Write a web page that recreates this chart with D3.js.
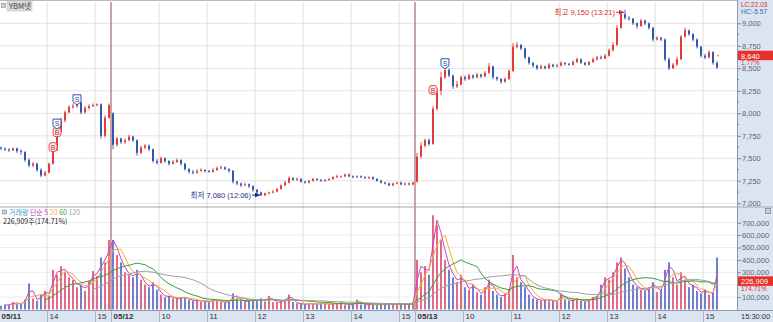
<!DOCTYPE html>
<html>
<head>
<meta charset="utf-8">
<script src="https://cdn.jsdelivr.net/npm/d3@7"></script>
<style>
  body { margin: 0; background: #fff; }
  svg { display: block; font-family: "Liberation Sans", "Noto Sans CJK KR", sans-serif; }
</style>
</head>
<body>
<svg id="chart" width="773" height="322"></svg>
<script>
// ---- data (5-minute bars) ----
const days = ['05/11', '05/12', '05/13'];
const dayStartMin = [13 * 60, 9 * 60, 9 * 60];
const dayOpen = [7620, 8000, 7240];

const close0511 = [7610,7600,7590,7610,7580,7570,7480,7420,7440,7370, 7310,7340,7440,7590,7790,7920,8010,8070,8080,8120, 8010,8060,8080,8090,8100,7750,7950,8090];
const high0511  = [7630,7620,7610,7620,7620,7600,7580,7500,7460,7450, 7390,7360,7450,7600,7800,7950,8030,8090,8110,8140, 8130,8080,8100,8110,8110,8110,7980,8110];
const low0511   = [7590,7580,7570,7580,7560,7540,7460,7400,7400,7350, 7290,7300,7330,7430,7580,7780,7900,8000,8050,8060, 7990,8000,8040,8070,8080,7720,7730,7940];
const vol0511   = [30000,40000,35000,60000,45000,50000,80000,210000,90000,70000, 120000,150000,110000,320000,280000,350000,300000,260000,240000,180000, 200000,150000,230000,310000,270000,420000,380000,560000];

const close0512 = [7650,7720,7680,7700,7740,7700,7560,7620,7640,7600, 7470,7450,7500,7470,7440,7460,7480,7440,7380,7350, 7340,7360,7370,7360,7350,7370,7390,7400,7380,7360, 7240,7220,7200,7210,7190,7150,7120,7090,7110,7120, 7130,7160,7200,7230,7280,7260,7270,7240,7230,7250, 7270,7260,7250,7260,7270,7290,7300,7300,7320,7300, 7290,7300,7290,7280,7290,7270,7250,7230,7220,7200, 7220,7230,7210,7220,7210,7230];
const high0512  = [8010,7740,7730,7720,7760,7750,7710,7640,7660,7650, 7610,7490,7520,7510,7480,7480,7500,7490,7450,7390, 7370,7380,7390,7380,7370,7390,7410,7420,7410,7390, 7370,7250,7230,7230,7220,7200,7160,7130,7120,7130, 7150,7170,7210,7250,7300,7290,7290,7280,7250,7260, 7280,7280,7270,7270,7280,7300,7320,7310,7330,7330, 7310,7310,7310,7300,7300,7300,7280,7260,7240,7230, 7230,7240,7240,7230,7230,7240];
const low0512   = [7600,7630,7660,7660,7690,7680,7530,7550,7600,7580, 7450,7430,7440,7450,7420,7430,7450,7420,7360,7330, 7320,7330,7350,7340,7340,7340,7360,7380,7370,7340, 7220,7200,7180,7190,7170,7130,7100,7080,7080,7100, 7110,7120,7150,7190,7220,7250,7250,7230,7220,7220, 7240,7250,7240,7240,7250,7260,7280,7290,7290,7290, 7280,7280,7280,7270,7270,7260,7240,7220,7210,7190, 7190,7210,7200,7200,7200,7200];
const vol0512   = [560000,440000,380000,300000,280000,260000,320000,240000,200000,180000, 220000,160000,120000,100000,110000,90000,85000,100000,95000,80000, 70000,75000,65000,70000,60000,80000,75000,60000,55000,65000, 130000,90000,70000,60000,75000,80000,70000,90000,65000,110000, 60000,55000,70000,80000,120000,60000,50000,45000,40000,50000, 45000,40000,55000,45000,40000,50000,45000,60000,40000,35000, 45000,80000,40000,35000,40000,45000,35000,40000,50000,45000, 40000,45000,50000,40000,45000,60000];

const close0513 = [7520,7640,7700,7660,8050,8250,8400,8480,8420,8300, 8320,8400,8380,8420,8400,8430,8410,8450,8520,8400, 8380,8350,8380,8470,8740,8760,8720,8620,8560,8530, 8500,8520,8500,8540,8520,8530,8560,8550,8540,8570, 8600,8560,8540,8570,8600,8620,8610,8640,8700,8760, 8950,9100,9060,9050,9000,8970,9030,9000,8950,8820, 8840,8820,8600,8500,8540,8600,8850,8920,8880,8820, 8740,8640,8620,8680,8560,8510];
const high0513  = [7560,7680,7720,7720,8080,8280,8460,8520,8500,8430, 8360,8420,8420,8440,8430,8450,8440,8470,8560,8530, 8410,8390,8400,8490,8780,8790,8770,8730,8630,8570, 8540,8540,8530,8560,8550,8550,8580,8570,8560,8590, 8620,8610,8570,8580,8620,8640,8640,8660,8720,8790, 8980,9130,9150,9080,9060,9010,9050,9040,9010,8960, 8860,8850,8830,8620,8560,8630,8870,8950,8930,8890, 8830,8750,8660,8700,8690,8580];
const low0513   = [7230,7500,7620,7640,7650,8030,8200,8380,8400,8270, 8280,8310,8360,8370,8380,8390,8390,8400,8440,8380, 8360,8330,8340,8370,8460,8720,8700,8600,8540,8510, 8480,8490,8490,8490,8510,8510,8520,8530,8530,8530, 8560,8550,8530,8530,8560,8590,8600,8600,8630,8690, 8750,8940,9040,9030,8980,8940,8960,8980,8930,8800, 8810,8800,8580,8480,8490,8530,8590,8840,8860,8800, 8720,8620,8600,8610,8540,8490];
const vol0513   = [400000,300000,350000,280000,760000,680000,560000,400000,320000,260000, 220000,280000,180000,160000,200000,140000,120000,180000,240000,150000, 120000,100000,130000,160000,440000,260000,220000,180000,120000,90000, 80000,70000,85000,75000,70000,65000,130000,80000,70000,75000, 90000,70000,65000,80000,100000,110000,200000,260000,240000,300000, 380000,420000,330000,260000,200000,180000,160000,150000,180000,220000, 140000,160000,320000,380000,260000,200000,300000,240000,180000,200000, 150000,130000,160000,120000,140000,420000];

const lastTrade = 8640;
const lastVolume = 226909;
const priceTicks = [7000, 7250, 7500, 7750, 8000, 8250, 8500, 8750, 9000];
const volTicks = [100000, 200000, 300000, 400000, 500000, 600000, 700000];
const maPeriods = [5, 20, 60, 120];
const maColors = ['#d040c8', '#f0b030', '#3aa040', '#a0a0a0'];

// trade signals: [bar index, price, type]
const signals = [[13, 7625, 'B'], [14, 7790, 'B'], [14, 7880, 'S'], [19, 8150, 'S'], [108, 8260, 'B'], [111, 8550, 'S']];

// ---- build bars ----
const dayCloses = [close0511, close0512, close0513];
const dayHighs = [high0511, high0512, high0513];
const dayLows = [low0511, low0512, low0513];
const dayVols = [vol0511, vol0512, vol0513];

let bars = [];
dayCloses.forEach((closes, d) => {
  let prev = dayOpen[d];
  closes.forEach((c, i) => {
    bars.push({ day: d, open: prev, high: dayHighs[d][i], low: dayLows[d][i], close: c, vol: dayVols[d][i] });
    prev = c;
  });
});

const svg = d3.select('#chart');
const plotR = 737;
const paneTop = 2, paneMid = 207, paneBot = 310;

let x = d3.scaleLinear().domain([0, bars.length]).range([-1, 719]);
let yP = d3.scaleLinear().domain([7000, 9000]).range([203.3, 23.3]);
let yV = d3.scaleLinear().domain([0, 700000]).range([309.5, 222.7]);
const cx = (i) => x(i + 0.5);

const UP = '#e03a3a', DOWN = '#3456b0';

// hour ticks
let hourTicks = [];
let offset = 0;
days.forEach((day, d) => {
  let start = dayStartMin[d];
  for (let h = Math.floor(start / 60); h <= 15; h++) {
    let isDay = h * 60 === start;
    hourTicks.push({ bar: offset + (h * 60 - start) / 5, label: isDay ? day : String(h), isDay });
  }
  offset += dayCloses[d].length;
});

// ---- background / grid ----
svg.append('rect').attr('x', 0).attr('y', 0).attr('width', 773).attr('height', 322).attr('fill', '#fff');

let grid = svg.append('g');
priceTicks.forEach((t) => {
  grid.append('line').attr('x1', 0).attr('x2', plotR).attr('y1', yP(t)).attr('y2', yP(t))
    .attr('stroke', '#e3e3e3');
});
volTicks.forEach((t) => {
  grid.append('line').attr('x1', 0).attr('x2', plotR).attr('y1', yV(t)).attr('y2', yV(t))
    .attr('stroke', '#ececec');
});
hourTicks.forEach((t) => {
  if (t.bar === 0) return;
  grid.append('line').attr('x1', x(t.bar)).attr('x2', x(t.bar))
    .attr('y1', paneTop).attr('y2', paneBot)
    .attr('stroke', t.isDay ? '#b07272' : '#dedede')
    .attr('stroke-width', t.isDay ? 1.3 : 1);
});

// ---- clips ----
let defs = svg.append('defs');
defs.append('clipPath').attr('id', 'clipP').append('rect')
  .attr('x', 0).attr('y', paneTop).attr('width', plotR).attr('height', paneMid - paneTop);
defs.append('clipPath').attr('id', 'clipV').append('rect')
  .attr('x', 0).attr('y', paneMid).attr('width', plotR).attr('height', paneBot - paneMid);

// ---- candles ----
let candles = svg.append('g').attr('clip-path', 'url(#clipP)');
bars.forEach((b, i) => {
  let col = b.close >= b.open ? UP : DOWN;
  candles.append('line').attr('x1', cx(i)).attr('x2', cx(i))
    .attr('y1', yP(b.high)).attr('y2', yP(b.low)).attr('stroke', col).attr('stroke-width', 0.9);
  let top = yP(Math.max(b.open, b.close));
  let h = Math.max(1, Math.abs(yP(b.open) - yP(b.close)));
  candles.append('rect').attr('x', cx(i) - 1).attr('width', 2)
    .attr('y', top).attr('height', h).attr('fill', col);
});
// closing auction trade
candles.append('circle').attr('cx', cx(bars.length - 1) + 1).attr('cy', yP(lastTrade))
  .attr('r', 0.8).attr('fill', UP);

// ---- signals ----
let sig = svg.append('g');
signals.forEach(([i, p, type]) => {
  let g = sig.append('g').attr('transform', `translate(${cx(i)},${yP(p)})`);
  if (type === 'B') {
    g.append('rect').attr('x', -4).attr('y', -4.5).attr('width', 8).attr('height', 9).attr('rx', 3)
      .attr('fill', '#fbe4e4').attr('stroke', '#e05555');
    g.append('text').attr('text-anchor', 'middle').attr('y', 3).attr('font-size', 7)
      .attr('fill', '#d83030').text('B');
  } else {
    g.append('path').attr('d', 'M-4,-5H4V2L0,5L-4,2Z').attr('fill', '#fff').attr('stroke', '#3050a8');
    g.append('text').attr('text-anchor', 'middle').attr('y', 2).attr('font-size', 7)
      .attr('fill', '#2a46a0').text('S');
  }
});

// ---- high / low annotations ----
let hiIdx = d3.maxIndex(bars, (b) => b.high);
let loIdx = d3.minIndex(bars, (b) => b.low);
defs.append('marker').attr('id', 'arrR').attr('viewBox', '0 0 6 6').attr('refX', 6).attr('refY', 3)
  .attr('markerWidth', 5).attr('markerHeight', 5).attr('orient', 'auto')
  .append('path').attr('d', 'M0,0L6,3L0,6Z').attr('fill', 'context-stroke');

let hiY = yP(bars[hiIdx].high) + 2.5;
svg.append('line').attr('x1', cx(hiIdx) - 9).attr('x2', cx(hiIdx) - 1).attr('y1', hiY).attr('y2', hiY)
  .attr('stroke', '#d03030').attr('marker-end', 'url(#arrR)');
svg.append('text').attr('x', cx(hiIdx) - 10).attr('y', hiY + 3).attr('text-anchor', 'end')
  .attr('font-size', 7.5).attr('fill', '#d03030').text('최고 9,150 (13:21)');

let loY = yP(bars[loIdx].low) - 1;
svg.append('line').attr('x1', cx(loIdx) - 9).attr('x2', cx(loIdx) - 1).attr('y1', loY).attr('y2', loY)
  .attr('stroke', '#1f2f80').attr('marker-end', 'url(#arrR)');
svg.append('text').attr('x', cx(loIdx) - 10).attr('y', loY + 3).attr('text-anchor', 'end')
  .attr('font-size', 7.5).attr('fill', '#1f2f80').text('최저 7,080 (12:06)');

// ---- volume ----
let vol = svg.append('g').attr('clip-path', 'url(#clipV)');
bars.forEach((b, i) => {
  vol.append('rect').attr('x', cx(i) - 0.8).attr('width', 1.6)
    .attr('y', yV(b.vol)).attr('height', yV(0) - yV(b.vol))
    .attr('fill', b.close >= b.open ? '#d8486a' : '#5060c4');
});
let vols = bars.map((b) => b.vol);
maPeriods.forEach((p, k) => {
  let n = Math.max(2, p / 5);
  let ma = vols.map((v, i) => i < n - 1 ? null : d3.mean(vols.slice(i - n + 1, i + 1)));
  let line = d3.line().defined((d) => d != null).x((d, i) => cx(i)).y((d) => yV(d));
  vol.append('path').attr('d', line(ma)).attr('fill', 'none')
    .attr('stroke', maColors[k]).attr('stroke-width', 1);
});

// pane separator and frame
svg.append('line').attr('x1', 0).attr('x2', 773).attr('y1', paneMid).attr('y2', paneMid).attr('stroke', '#a8a8a8');
svg.append('line').attr('x1', 0).attr('x2', 773).attr('y1', 0.5).attr('y2', 0.5).attr('stroke', '#b8b8b8');

// ---- right axis panel ----
svg.append('rect').attr('x', plotR).attr('y', 0).attr('width', 773 - plotR).attr('height', paneBot)
  .attr('fill', '#dbe4f1');
svg.append('line').attr('x1', plotR + 0.5).attr('x2', plotR + 0.5).attr('y1', 0).attr('y2', 322)
  .attr('stroke', '#8d9bb2');
svg.append('line').attr('x1', plotR).attr('x2', 773).attr('y1', paneMid).attr('y2', paneMid).attr('stroke', '#a8a8a8');

let axP = svg.append('g').attr('transform', `translate(${plotR},0)`)
  .call(d3.axisRight(yP).tickValues(priceTicks).tickSize(4).tickPadding(1).tickFormat(d3.format(',')));
// the 200,000 label sits under the last-volume box, so it is left blank
let axV = svg.append('g').attr('transform', `translate(${plotR},0)`)
  .call(d3.axisRight(yV).tickValues(volTicks).tickSize(4).tickPadding(1)
    .tickFormat((d) => d === 200000 ? '' : d3.format(',')(d)));
[axP, axV].forEach((ax) => {
  ax.select('.domain').remove();
  ax.selectAll('line').attr('stroke', '#7d8796');
  ax.selectAll('text').attr('font-size', 7.5).attr('fill', '#5d6470').attr('font-family', 'Liberation Sans, sans-serif');
});
// minor ticks
priceTicks.slice(0, -1).forEach((t) => {
  svg.append('line').attr('x1', plotR).attr('x2', plotR + 2).attr('y1', yP(t + 125)).attr('y2', yP(t + 125))
    .attr('stroke', '#7d8796');
});

svg.append('text').attr('x', 741).attr('y', 6.5).attr('font-size', 6.5).attr('fill', '#e03030').text('LC:22.03');
svg.append('text').attr('x', 741).attr('y', 14).attr('font-size', 6.5).attr('fill', '#3060c0').text('HC:-5.57');

// last price box
svg.append('rect').attr('x', plotR + 1).attr('y', yP(lastTrade) - 5).attr('width', 773 - plotR).attr('height', 9.5)
  .attr('fill', '#e8302a');
svg.append('text').attr('x', 741).attr('y', yP(lastTrade) + 2.8).attr('font-size', 7.5).attr('fill', '#fff').text('8,640');
svg.append('text').attr('x', 741).attr('y', yP(lastTrade) + 9.3).attr('font-size', 6.5).attr('fill', '#e03030').text('1.77%');

// last volume box
svg.append('rect').attr('x', plotR + 1).attr('y', yV(lastVolume) - 5).attr('width', 773 - plotR).attr('height', 9.5)
  .attr('fill', '#e8302a');
svg.append('text').attr('x', 741).attr('y', yV(lastVolume) + 2.8).attr('font-size', 7.5).attr('fill', '#fff').text('226,909');
svg.append('text').attr('x', 741).attr('y', yV(lastVolume) + 10).attr('font-size', 6.5).attr('fill', '#e03030').text('174.71%');

svg.append('rect').attr('x', 765.5).attr('y', 208.5).attr('width', 5).attr('height', 5)
  .attr('fill', '#c8ccd4').attr('stroke', '#7a7f88').attr('stroke-width', 0.7);

// ---- bottom axis ----
svg.append('rect').attr('x', 0).attr('y', paneBot).attr('width', 773).attr('height', 322 - paneBot)
  .attr('fill', '#dbe4f1');
svg.append('line').attr('x1', 0).attr('x2', 773).attr('y1', paneBot + 0.5).attr('y2', paneBot + 0.5)
  .attr('stroke', '#8d9bb2');
let axX = svg.append('g').attr('transform', `translate(0,${paneBot})`)
  .call(d3.axisBottom(x).tickValues(hourTicks.map((t) => t.bar)).tickSize(12)
    .tickFormat((d, i) => hourTicks[i].label));
axX.select('.domain').remove();
axX.selectAll('line').attr('stroke', '#a9b3c3');
axX.selectAll('text').attr('text-anchor', 'start').attr('dx', 2).attr('y', 3)
  .attr('font-size', 8).attr('fill', '#333')
  .attr('font-weight', (d, i) => hourTicks[i].isDay ? 'bold' : 'normal');
svg.append('text').attr('x', 741).attr('y', 319).attr('font-size', 7.5).attr('fill', '#333').text('15:30:00');

// ---- titles ----
svg.append('rect').attr('x', 1.5).attr('y', 3.5).attr('width', 4).attr('height', 4)
  .attr('fill', '#ccd0d8').attr('stroke', '#80858f').attr('stroke-width', 0.6);
svg.append('rect').attr('x', 7).attr('y', 1).attr('width', 25).attr('height', 10)
  .attr('fill', '#dcdcdc').attr('stroke', '#c0c0c0').attr('stroke-width', 0.5);
svg.append('text').attr('x', 9).attr('y', 9).attr('font-size', 7.5).attr('fill', '#333')
  .attr('font-family', 'Noto Sans CJK KR, sans-serif').text('YBM넷');

let leg = svg.append('text').attr('x', 9).attr('y', 215).attr('font-size', 7)
  .attr('font-family', 'Noto Sans CJK KR, sans-serif');
leg.append('tspan').attr('fill', '#3a9ad0').text('거래량 ');
leg.append('tspan').attr('fill', '#b040b0').text('단순 ');
['5', '20', '60', '120'].forEach((t, k) => {
  leg.append('tspan').attr('fill', maColors[k]).text(t + ' ');
});
svg.append('rect').attr('x', 2.5).attr('y', 210).attr('width', 4).attr('height', 4)
  .attr('fill', '#ccd0d8').attr('stroke', '#80858f').attr('stroke-width', 0.6);
svg.append('text').attr('x', 3).attr('y', 224).attr('font-size', 7).attr('fill', '#222')
  .attr('font-family', 'Noto Sans CJK KR, sans-serif').text('226,909주(174.71%)');
</script>
</body>
</html>
